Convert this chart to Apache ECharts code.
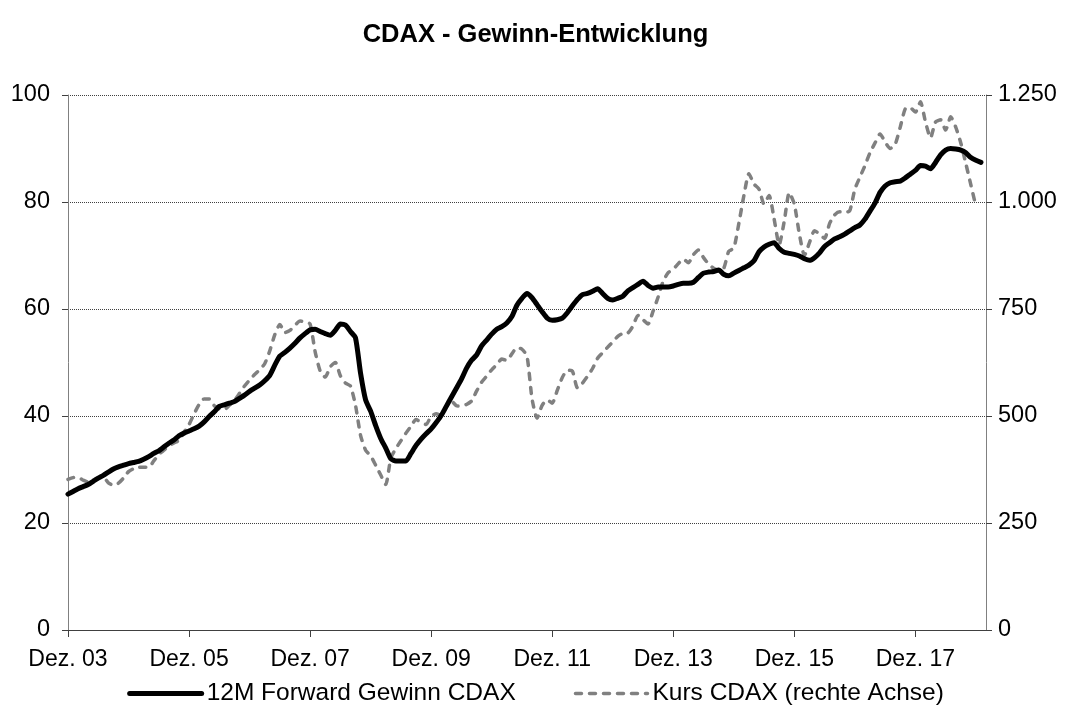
<!DOCTYPE html>
<html>
<head>
<meta charset="utf-8">
<script src="https://cdn.jsdelivr.net/npm/echarts@6/dist/echarts.min.js"></script>
<style>html,body{margin:0;padding:0;background:#fff;}#c{width:1071px;height:723px;}</style>
</head>
<body>
<div id="c"></div>
<script>
// Monthly observations, Dez. 2003 .. Feb. 2019
const monthNames = ["Jan.","Feb.","Mär.","Apr.","Mai","Jun.","Jul.","Aug.","Sep.","Okt.","Nov.","Dez."];
const startYear = 2003, startMonth = 11, monthCount = 183;
const categories = [];
for (let k = 0; k < monthCount; k++) {
  const m = (startMonth + k) % 12;
  const y = startYear + Math.floor((startMonth + k) / 12);
  categories.push(monthNames[m] + " " + String(y % 100).padStart(2, "0"));
}

// 12M Forward Gewinn CDAX (left axis)
const gewinn = [
25.4,25.9,26.4,26.8,27.2,27.8,28.4,28.9,29.5,30.1,30.5,30.8,
31.1,31.3,31.5,31.9,32.4,33.0,33.5,34.2,34.9,35.5,36.3,36.8,
37.2,37.6,38.1,38.9,39.9,40.8,41.8,42.1,42.4,42.7,43.3,43.9,
44.6,45.2,45.8,46.6,47.6,49.5,51.2,51.9,52.7,53.6,54.6,55.4,
56.1,56.2,55.8,55.4,55.1,56.0,57.2,57.0,55.8,54.6,48.0,43.0,
40.9,38.2,35.8,34.0,32.0,31.6,31.6,31.6,33.0,34.5,35.7,36.7,
37.6,38.8,40.1,41.8,43.5,45.2,46.9,48.9,50.4,51.4,53.1,54.2,
55.3,56.2,56.7,57.4,58.6,60.7,62.0,62.9,62.1,60.8,59.5,58.3,
57.9,58.0,58.3,59.3,60.6,61.8,62.7,62.9,63.3,63.8,62.9,62.0,
61.7,62.0,62.4,63.4,64.0,64.6,65.2,64.4,63.9,64.1,64.1,64.1,
64.3,64.6,64.8,64.8,65.0,65.9,66.7,66.9,67.0,67.3,66.5,66.2,
66.7,67.2,67.7,68.2,69.0,70.7,71.6,72.1,72.4,71.3,70.6,70.4,
70.2,69.9,69.4,69.1,69.6,70.5,71.7,72.4,73.1,73.5,74.0,74.6,
75.2,75.7,76.8,78.3,79.8,81.8,83.0,83.6,83.8,83.9,84.5,85.2,
85.9,86.8,86.7,86.2,87.4,88.8,89.7,90.0,89.9,89.7,89.2,88.3,
87.8,87.4
];

// Kurs CDAX (right axis)
const kurs = [
352,356,357,350,346,351,355,357,344,338,343,355,
370,377,380,380,380,395,410,420,430,437,443,462,
480,505,527,540,540,524,517,515,525,536,553,570,
584,597,608,622,652,690,714,695,700,712,722,720,
715,650,605,591,615,625,594,577,570,525,455,420,
407,385,362,340,402,424,442,460,476,492,485,480,
500,505,502,522,535,524,523,527,535,558,579,593,
608,620,633,630,645,660,656,640,540,495,525,538,
530,560,590,607,605,566,577,593,611,635,648,661,
673,686,693,694,710,735,725,715,745,778,815,835,
843,856,867,858,877,888,870,855,845,841,845,885,
892,950,1015,1066,1042,1030,995,1015,960,900,955,1022,
995,925,875,905,933,925,915,950,970,977,975,980,
1030,1058,1085,1115,1138,1159,1140,1125,1135,1175,1218,1220,
1210,1234,1187,1150,1187,1192,1168,1199,1175,1138,1090,1040,
990
];

const leftTicks = [0, 20, 40, 60, 80, 100];
const rightTicks = [0, 250, 500, 750, 1000, 1250];
const seriesNames = ['12M Forward Gewinn CDAX', 'Kurs CDAX (rechte Achse)'];

const FONT = "'Liberation Sans', Arial, sans-serif";
const solidStyle = {color: '#000000', width: 5, cap: 'round', join: 'round'};
const dashStyle = {color: '#808080', width: 3.5, type: [6, 8], cap: 'round', join: 'round'};

const chart = echarts.init(document.getElementById('c'), null, {renderer: 'canvas'});
chart.setOption({
  backgroundColor: '#ffffff',
  animation: false,
  title: {
    text: 'CDAX - Gewinn-Entwicklung',
    left: 'center',
    top: 17,
    textStyle: {fontFamily: FONT, fontSize: 25.5, fontWeight: 'bold', color: '#000'}
  },
  legend: {
    top: 676,
    left: 'center',
    itemWidth: 72,
    itemHeight: 14,
    itemGap: 58,
    itemStyle: {opacity: 0},
    textStyle: {fontFamily: FONT, fontSize: 24.5, color: '#000'},
    data: [
      {name: seriesNames[0], lineStyle: {width: 5, color: '#000000', type: 'solid', cap: 'round'}},
      {name: seriesNames[1], lineStyle: {width: 3.5, color: '#808080', type: [6, 8], cap: 'round'}}
    ]
  },
  grid: {left: 68, right: 85, top: 95, bottom: 93, containLabel: false},
  xAxis: {
    type: 'category',
    data: categories,
    boundaryGap: false,
    axisLine: {lineStyle: {color: '#404040', width: 1}},
    axisTick: {interval: 23, length: 7, lineStyle: {color: '#404040'}},
    axisLabel: {interval: 23, margin: 18, fontFamily: FONT, fontSize: 23, color: '#000'},
    splitLine: {show: false}
  },
  yAxis: [
    {
      type: 'value', min: leftTicks[0], max: leftTicks[leftTicks.length - 1], interval: 20,
      axisLine: {show: true, lineStyle: {color: '#808080'}},
      axisTick: {show: true, length: 6, lineStyle: {color: '#404040'}},
      axisLabel: {margin: 18, fontFamily: FONT, fontSize: 23.5, color: '#000'},
      splitLine: {show: true, lineStyle: {color: '#404040', type: [1, 1], width: 1}}
    },
    {
      type: 'value', min: rightTicks[0], max: rightTicks[rightTicks.length - 1], interval: 250,
      position: 'right',
      axisLine: {show: true, lineStyle: {color: '#808080'}},
      axisTick: {show: true, length: 6, lineStyle: {color: '#404040'}},
      axisLabel: {margin: 12, fontFamily: FONT, fontSize: 23.5, color: '#000',
        formatter: v => v >= 1000 ? Math.floor(v / 1000) + '.' + String(v % 1000).padStart(3, '0') : String(v)},
      splitLine: {show: false}
    }
  ],
  series: [
    {
      name: seriesNames[0], type: 'line', yAxisIndex: 0, data: gewinn,
      showSymbol: false, symbol: 'none', smooth: 0.2, z: 3,
      lineStyle: solidStyle,
      itemStyle: {color: '#000000'}
    },
    {
      name: seriesNames[1], type: 'line', yAxisIndex: 1, data: kurs,
      showSymbol: false, symbol: 'none', smooth: 0.2, z: 2,
      lineStyle: dashStyle,
      itemStyle: {color: '#808080'}
    }
  ]
});
</script>
</body>
</html>
